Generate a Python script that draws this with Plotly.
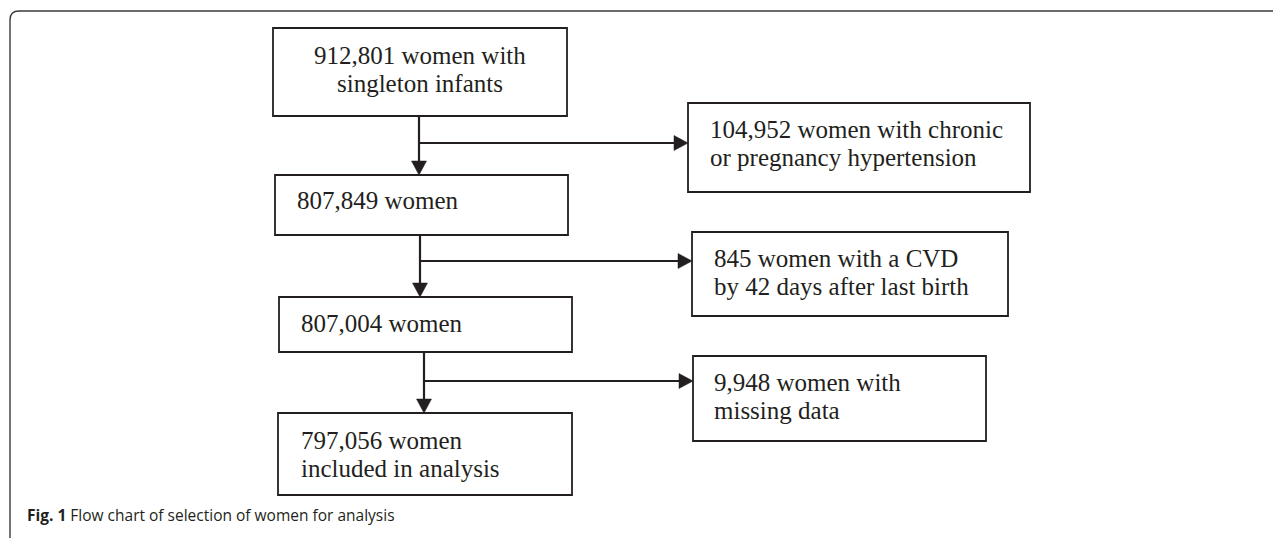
import plotly.graph_objects as go

# ---------------- data ----------------
main_counts = [912801, 807849, 807004, 797056]
main_templates = [
    ["{:,} women with", "singleton infants"],
    ["{:,} women"],
    ["{:,} women"],
    ["{:,} women", "included in analysis"],
]
excluded_counts = [104952, 845, 9948]
excluded_templates = [
    ["{:,} women with chronic", "or pregnancy hypertension"],
    ["{:,} women with a CVD", "by 42 days after last birth"],
    ["{:,} women with", "missing data"],
]
caption_bold = "Fig. 1"
caption_text = "Flow chart of selection of women for analysis"

# ---------------- layout (pixel-space positions) ----------------
W, H = 1281, 538
OFF = 8  # page margin compensation
main_boxes = [(273, 567, 28, 116), (275, 568, 175, 235), (279, 572, 297, 352), (278, 572, 413, 495)]
side_boxes = [(688, 1030, 103, 192), (692, 1008, 232, 316), (693, 986, 356, 441)]
main_text_x = [420, 295, 299, 299]
main_text_anchor = ["center", "left", "left", "left"]
main_text_y = [55, 200, 323.5, 440]
side_text_x = [708, 712, 712]
side_text_y = [129, 258, 382]
trunk_x = [419, 420, 424]
branch_y = [143, 261, 381]
LINE_GAP = 28.5
HEAD_L, HEAD_W = 14, 15
INK = "#231f20"
FONT_SERIF = "Liberation Serif, Times New Roman, serif"
FS = 25

fig = go.Figure()
shapes = []
annotations = []

def add_box(b):
    x0, x1, y0, y1 = b
    shapes.append(dict(type="rect", xref="x", yref="y", x0=x0, x1=x1, y0=y0, y1=y1,
                       line=dict(color=INK, width=1.8), fillcolor="white", layer="above"))

def add_lines(lines, x, y, anchor):
    for i, t in enumerate(lines):
        annotations.append(dict(x=x, y=y + i * LINE_GAP, xref="x", yref="y", text=t,
                                showarrow=False, xanchor=anchor, yanchor="middle",
                                font=dict(family=FONT_SERIF, size=FS, color=INK)))

for i, b in enumerate(main_boxes):
    add_box(b)
    lines = [l.format(main_counts[i]) if "{" in l else l for l in main_templates[i]]
    add_lines(lines, main_text_x[i], main_text_y[i], main_text_anchor[i])

for i, b in enumerate(side_boxes):
    add_box(b)
    lines = [l.format(excluded_counts[i]) if "{" in l else l for l in excluded_templates[i]]
    add_lines(lines, side_text_x[i], side_text_y[i], "left")

# arrows
for i in range(3):
    tx = trunk_x[i]
    y_start = main_boxes[i][3]
    y_tip = main_boxes[i + 1][2]
    shapes.append(dict(type="line", xref="x", yref="y", x0=tx, x1=tx, y0=y_start, y1=y_tip - HEAD_L + 1,
                       line=dict(color=INK, width=2.2)))
    shapes.append(dict(type="path", xref="x", yref="y",
                       path=f"M {tx - HEAD_W/2},{y_tip - HEAD_L} L {tx + HEAD_W/2},{y_tip - HEAD_L} L {tx},{y_tip} Z",
                       fillcolor=INK, line=dict(color=INK, width=0.5)))
    by = branch_y[i]
    x_tip = side_boxes[i][0]
    shapes.append(dict(type="line", xref="x", yref="y", x0=tx, x1=x_tip - HEAD_L + 1, y0=by, y1=by,
                       line=dict(color=INK, width=2.2)))
    shapes.append(dict(type="path", xref="x", yref="y",
                       path=f"M {x_tip - HEAD_L},{by - HEAD_W/2} L {x_tip - HEAD_L},{by + HEAD_W/2} L {x_tip},{by} Z",
                       fillcolor=INK, line=dict(color=INK, width=0.5)))

# outer frame with rounded corner
shapes.append(dict(type="path", xref="x", yref="y",
                   path="M 10,560 L 10,20 Q 10,11 19,11 L 1300,11",
                   line=dict(color="#3a3a3a", width=1.4), layer="below"))

annotations.append(dict(x=25, y=515, xref="x", yref="y",
                        text=f"<b>{caption_bold}</b> {caption_text}",
                        showarrow=False, xanchor="left", yanchor="middle",
                        font=dict(family="Open Sans, Noto Sans, sans-serif", size=15.5, color=INK)))

fig.add_trace(go.Scatter(x=[OFF, W], y=[OFF, H], mode="markers", marker=dict(opacity=0), hoverinfo="skip",
                         showlegend=False))

fig.update_layout(
    width=W, height=H,
    margin=dict(l=0, r=0, t=0, b=0),
    paper_bgcolor="white", plot_bgcolor="white",
    xaxis=dict(range=[OFF, W + OFF], visible=False, fixedrange=True),
    yaxis=dict(range=[H + OFF, OFF], visible=False, fixedrange=True),
    shapes=shapes, annotations=annotations, showlegend=False,
)

fig.write_html("out.html", config={"displayModeBar": False})
